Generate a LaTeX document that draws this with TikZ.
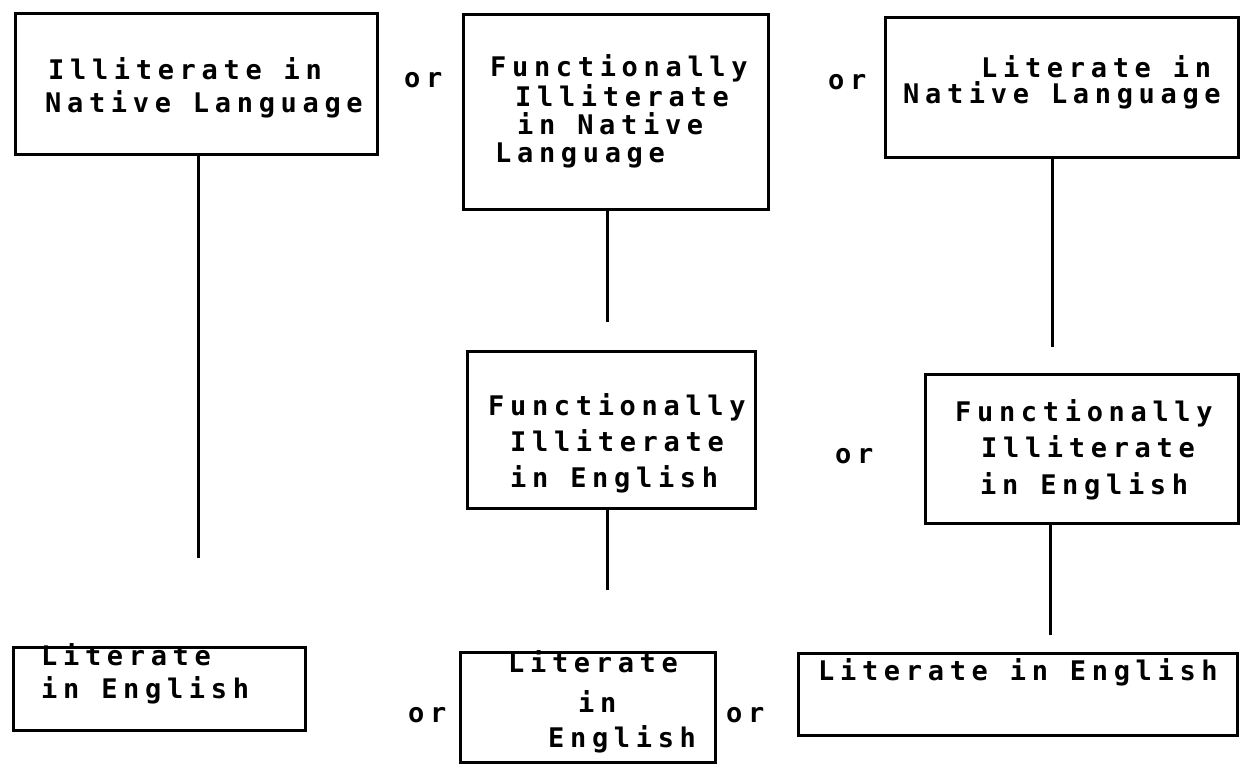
\documentclass[tikz,border=0pt]{standalone}
\usepackage{fontspec}
\newfontfamily\tw[LetterSpace=21]{DejaVu Sans Mono}
\begin{document}
\begin{tikzpicture}[x=1pt,y=-1pt,
  box/.style={draw, line width=3pt, inner sep=0pt},
  txt/.style={anchor=base west, inner sep=0pt, font=\tw\bfseries\fontsize{27}{30}\selectfont},
  link/.style={line width=3pt}]
\useasboundingbox (0,0) rectangle (1243,767);
% boxes
\node[box, minimum width=362pt, minimum height=141pt] (b1) at (196,84.5) {};
\node[box, minimum width=305pt, minimum height=195pt] (b2) at (615.5,112.5) {};
\node[box, minimum width=353pt, minimum height=140pt] (b3) at (1061.5,88) {};
\node[box, minimum width=288pt, minimum height=156pt] (b4) at (611,430) {};
\node[box, minimum width=313pt, minimum height=148pt] (b5) at (1081.5,449) {};
\node[box, minimum width=292pt, minimum height=83pt] (b6) at (159,688.5) {};
\node[box, minimum width=255pt, minimum height=110pt] (b7) at (587.5,707) {};
\node[box, minimum width=439pt, minimum height=82pt] (b8) at (1017.5,694) {};
% texts
\node[txt] (t1a) at (48,80) {Illiterate in};
\node[txt] (t1b) at (45,113) {Native Language};
\node[txt] (t2a) at (490,77) {Functionally};
\node[txt] (t2b) at (515,107) {Illiterate};
\node[txt] (t2c) at (517,135) {in Native};
\node[txt] (t2d) at (495,163) {Language};
\node[txt] (t3a) at (981,78) {Literate in};
\node[txt] (t3b) at (903,104) {Native Language};
\node[txt] (t4a) at (488,415) {Functionally};
\node[txt] (t4b) at (510,451) {Illiterate};
\node[txt] (t4c) at (510,487) {in English};
\node[txt] (t5a) at (955,421) {Functionally};
\node[txt] (t5b) at (981,457) {Illiterate};
\node[txt] (t5c) at (980,494) {in English};
\node[txt] (t6a) at (41,665) {Literate};
\node[txt] (t6b) at (41,698) {in English};
\node[txt] (t7a) at (508,672) {Literate};
\node[txt] (t7b) at (578,712) {in};
\node[txt] (t7c) at (548,747) {English};
\node[txt] (t8a) at (818,680) {Literate in English};
% or labels
\node[txt] (or1) at (404,88) {or};
\node[txt] (or2) at (828,90) {or};
\node[txt] (or3) at (835,463) {or};
\node[txt] (or4) at (408,722) {or};
\node[txt] (or5) at (726,722) {or};
% connectors
\coordinate (c1) at (198,558);
\coordinate (c2) at (607,322);
\coordinate (c3) at (1052,347);
\coordinate (c4) at (607,590);
\coordinate (c5) at (1050,635);
\draw[link] (b1.south -| c1) -- (c1);
\draw[link] (b2.south -| c2) -- (c2);
\draw[link] (b3.south -| c3) -- (c3);
\draw[link] (b4.south -| c4) -- (c4);
\draw[link] (b5.south -| c5) -- (c5);
\end{tikzpicture}
\end{document}
